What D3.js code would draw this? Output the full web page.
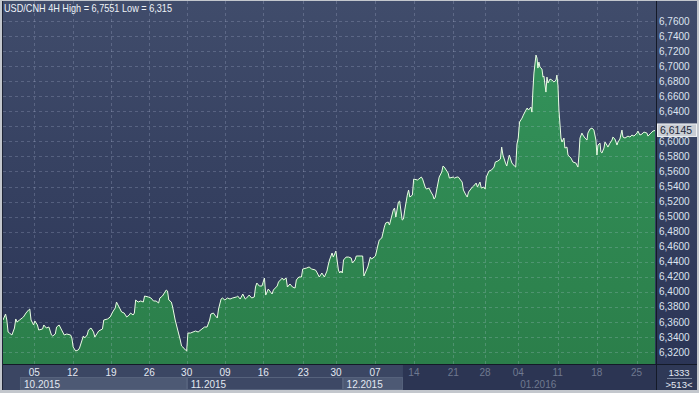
<!DOCTYPE html>
<html><head><meta charset="utf-8">
<script src="https://cdn.jsdelivr.net/npm/d3@7"></script>
<style>html,body{margin:0;padding:0;background:#c3c7cd;overflow:hidden}svg{display:block}</style>
</head><body><svg id="c" width="699" height="393"></svg>
<script>
// ---------- data ----------
const chartTitle = "USD/CNH 4H High = 6,7551 Low = 6,315";
// [4H bar index, close price]
const series = [[0,6.3625],[2,6.3705],[3,6.3625],[4,6.3466],[5,6.3452],[7,6.3426],[9,6.3519],[10,6.3639],[11,6.3599],[13,6.3625],[15,6.3652],[16,6.3665],[18,6.3718],[20,6.3758],[21,6.3771],[22,6.3625],[24,6.3559],[25,6.3612],[27,6.3559],[28,6.3492],[31,6.3506],[32,6.3559],[34,6.3519],[36,6.3532],[38,6.3426],[39,6.3413],[41,6.3439],[42,6.3532],[44,6.3559],[46,6.3492],[48,6.3426],[50,6.3439],[53,6.3426],[54,6.3386],[55,6.3266],[57,6.3213],[59,6.3227],[60,6.3253],[62,6.3359],[63,6.3413],[64,6.3386],[66,6.3426],[67,6.3492],[69,6.3519],[71,6.3466],[72,6.3399],[74,6.3452],[75,6.3479],[78,6.3506],[79,6.3625],[82,6.3639],[84,6.3665],[86,6.3732],[88,6.3785],[89,6.3864],[91,6.3798],[93,6.3732],[95,6.3718],[97,6.3665],[99,6.3692],[100,6.3718],[102,6.3692],[103,6.3718],[104,6.3891],[106,6.3864],[108,6.3878],[110,6.3864],[111,6.3944],[114,6.3931],[116,6.3918],[118,6.3878],[120,6.3878],[122,6.3851],[123,6.3918],[125,6.3944],[128,6.4024],[129,6.4011],[130,6.3891],[132,6.3864],[133,6.3798],[135,6.3625],[136,6.3559],[137,6.3492],[139,6.3359],[140,6.3280],[141,6.3266],[143,6.3227],[144,6.3213],[145,6.3452],[147,6.3452],[149,6.3466],[151,6.3479],[153,6.3466],[156,6.3506],[158,6.3532],[160,6.3532],[162,6.3625],[163,6.3705],[165,6.3718],[166,6.3692],[168,6.3652],[169,6.3771],[171,6.3904],[172,6.3918],[174,6.3891],[176,6.3918],[178,6.3904],[180,6.3918],[183,6.3931],[184,6.3944],[186,6.3904],[188,6.3971],[190,6.3904],[191,6.3918],[193,6.3957],[195,6.3918],[197,6.3931],[198,6.4064],[199,6.4117],[201,6.4077],[203,6.4077],[205,6.4183],[206,6.3957],[208,6.4037],[211,6.3971],[212,6.4024],[215,6.4077],[216,6.4130],[219,6.4183],[220,6.4157],[222,6.4183],[223,6.4064],[225,6.4104],[227,6.4064],[229,6.4050],[230,6.4157],[232,6.4197],[234,6.4197],[235,6.4303],[238,6.4316],[240,6.4330],[242,6.4303],[245,6.4290],[246,6.4263],[248,6.4197],[250,6.4250],[252,6.4197],[254,6.4276],[255,6.4356],[256,6.4423],[258,6.4516],[259,6.4462],[261,6.4542],[263,6.4290],[264,6.4250],[265,6.4276],[266,6.4250],[267,6.4423],[269,6.4462],[271,6.4462],[273,6.4449],[274,6.4383],[276,6.4423],[277,6.4476],[280,6.4476],[282,6.4476],[283,6.4210],[285,6.4290],[286,6.4330],[288,6.4462],[289,6.4436],[291,6.4462],[292,6.4476],[294,6.4622],[295,6.4688],[297,6.4715],[299,6.4861],[300,6.4914],[302,6.4928],[303,6.4888],[306,6.5087],[307,6.5114],[308,6.4994],[310,6.5193],[311,6.5207],[313,6.4954],[314,6.4967],[315,6.5087],[317,6.5286],[318,6.5353],[319,6.5260],[321,6.5286],[322,6.5499],[325,6.5486],[326,6.5499],[328,6.5526],[329,6.5499],[331,6.5393],[332,6.5366],[334,6.5379],[336,6.5313],[337,6.5286],[338,6.5233],[339,6.5260],[340,6.5353],[342,6.5526],[344,6.5592],[345,6.5672],[346,6.5658],[348,6.5605],[349,6.5579],[350,6.5512],[353,6.5526],[354,6.5512],[356,6.5526],[357,6.5526],[360,6.5459],[361,6.5353],[363,6.5286],[364,6.5260],[365,6.5326],[368,6.5393],[369,6.5406],[371,6.5446],[372,6.5393],[374,6.5459],[375,6.5379],[377,6.5393],[378,6.5366],[379,6.5526],[381,6.5605],[383,6.5619],[385,6.5658],[386,6.5725],[388,6.5738],[390,6.5765],[391,6.5924],[392,6.5818],[394,6.5712],[395,6.5672],[396,6.5751],[397,6.5818],[399,6.5712],[401,6.5672],[402,6.5658],[403,6.5965],[404,6.6044],[405,6.6256],[407,6.6310],[408,6.6349],[410,6.6416],[411,6.6443],[412,6.6416],[414,6.6456],[414.7,6.6389],[415.5,6.6682],[416.3,6.6908],[417.9,6.7147],[418.7,6.7107],[419.4,6.6974],[420.2,6.7054],[421,6.6987],[422.6,6.6961],[423.4,6.6854],[424.1,6.6868],[425.7,6.6655],[426.5,6.6854],[427.3,6.6775],[428.9,6.6828],[430.4,6.6815],[432,6.6788],[433.6,6.6815],[434.3,6.6881],[435.1,6.6748],[435.9,6.6416],[437.5,6.6044],[438.3,6.5991],[439.8,6.6044],[440.6,6.5911],[442.2,6.5924],[443,6.5818],[445.3,6.5778],[446.9,6.5725],[449.2,6.5712],[450.8,6.5658],[451.6,6.5818],[452.4,6.6044],[453.9,6.6110],[454.7,6.6084],[456.3,6.6044],[457.9,6.6017],[458.6,6.6110],[460.2,6.6163],[461.8,6.6177],[463.3,6.6150],[464.9,6.6017],[465.7,6.5818],[466.5,6.5951],[468.1,6.5977],[468.8,6.5858],[469.6,6.5845],[471.2,6.5911],[472,6.5991],[473.5,6.5951],[474.3,6.5924],[475.9,6.5977],[477.5,6.6017],[478.2,6.6057],[479.8,6.6031],[481.4,6.5951],[482.2,6.5991],[483.7,6.6031],[485.3,6.6150],[486.1,6.6057],[487.7,6.6044],[490,6.6070],[491.6,6.6057],[493.1,6.6084],[494.7,6.6070],[497.1,6.6110],[497.8,6.6137],[499.4,6.6084],[501,6.6097],[502.5,6.6124],[504.9,6.6110],[505.7,6.6070],[508,6.6110],[509.6,6.6137],[511.2,6.6145]];
const yTickValues = [6.32,6.34,6.36,6.38,6.40,6.42,6.44,6.46,6.48,6.50,6.52,6.54,6.56,6.58,6.60,6.62,6.64,6.66,6.68,6.70,6.72,6.74,6.76];
const dayTickBars = [24.5,54.6,84.7,114.7,144,174.1,204.1,235.4,261.1,291.7,322.2,353,377.9,404,434.9,465.5,496.8];
const dayTickLabels = ["05","12","19","26","30","09","16","23","30","07","14","21","28","04","11","18","25"];
const monthStartBars = [13.3,144.3,266.6,313.6];
const monthLabels = ["10.2015","11.2015","12.2015","01.2016"];
const monthLabelBars = [16.5,147.2,269.4,405.5];
const shadeStartBar = 313.6;
const lastPrice = 6.6145;
const totalBarsLabel = "1333";
const visibleBarsLabel = ">513<";

// ---------- layout ----------
const W = 699, H = 393;
const L = 3, R = 656, T = 1, B = 364, AXR = 697, AXB = 390;
const FONT = "'Liberation Sans', Arial, sans-serif";
const svg = d3.select("#c");

const x = d3.scaleLinear().domain([0, 512]).range([L, R]);
const y = d3.scaleLinear().domain([6.32, 6.76]).range([352, 21]);
const fmt = v => v.toFixed(4).replace(".", ",");

const defs = svg.append("defs");
const bg = defs.append("linearGradient").attr("id","bg").attr("x1",0).attr("y1",0).attr("x2",0).attr("y2",1);
bg.append("stop").attr("offset","0%").attr("stop-color","#404c6b");
bg.append("stop").attr("offset","100%").attr("stop-color","#2b3556");
const gr = defs.append("linearGradient").attr("id","gr").attr("x1",0).attr("y1",0).attr("x2",0).attr("y2",1);
gr.append("stop").attr("offset","0%").attr("stop-color","#33925a");
gr.append("stop").attr("offset","100%").attr("stop-color","#2b7e4a");
defs.append("clipPath").attr("id","clip").append("rect").attr("x",L).attr("y",T).attr("width",R-L).attr("height",B-T);

// frame + backgrounds
svg.append("rect").attr("width",W).attr("height",H).attr("fill","#c3c7cd");
svg.append("rect").attr("x",L).attr("y",T).attr("width",AXR-L).attr("height",B-T).attr("fill","url(#bg)");
svg.append("rect").attr("x",L).attr("y",B).attr("width",AXR-L).attr("height",AXB-B).attr("fill","#3b4663");
svg.append("rect").attr("x",x(shadeStartBar)).attr("y",B).attr("width",R-x(shadeStartBar)).attr("height",AXB-B).attr("fill","#2c3553");
svg.append("rect").attr("x",R).attr("y",B).attr("width",AXR-R).attr("height",AXB-B).attr("fill","#2f3957");

const plot = svg.append("g").attr("clip-path","url(#clip)");

// area + grid
plot.append("path").datum(series)
  .attr("fill","url(#gr)")
  .attr("d", d3.area().x(d=>x(d[0])).y0(B).y1(d=>y(d[1])));

const grid = plot.append("g").attr("stroke","rgba(200,210,235,0.22)").attr("stroke-dasharray","3,3").attr("stroke-width",1);
grid.selectAll("line.h").data(yTickValues).join("line")
  .attr("x1",L).attr("x2",R).attr("y1",d=>Math.round(y(d))+0.5).attr("y2",d=>Math.round(y(d))+0.5);
grid.selectAll("line.v").data(dayTickBars).join("line")
  .attr("y1",T).attr("y2",B).attr("x1",d=>Math.round(x(d))+0.5).attr("x2",d=>Math.round(x(d))+0.5);

plot.append("path").datum(series)
  .attr("fill","none").attr("stroke","#eafde4").attr("stroke-width",1)
  .attr("d", d3.line().x(d=>x(d[0])).y(d=>y(d[1])));

// separators
svg.append("line").attr("x1",R+0.5).attr("x2",R+0.5).attr("y1",T).attr("y2",AXB).attr("stroke","#141a28").attr("stroke-width",1);
svg.append("line").attr("x1",L).attr("x2",AXR).attr("y1",B+0.5).attr("y2",B+0.5).attr("stroke","#141a28").attr("stroke-width",1);
svg.append("line").attr("x1",L-0.5).attr("x2",L-0.5).attr("y1",T).attr("y2",AXB).attr("stroke","#1e2436");

// title
svg.append("text").attr("x",4).attr("y",12).attr("font-family",FONT).attr("font-size",10.5)
  .attr("fill","#eef2f8").attr("textLength",168).attr("lengthAdjust","spacingAndGlyphs").text(chartTitle);

// right axis (labels hidden behind the last-price box are skipped)
const ly = y(lastPrice);
svg.append("g").selectAll("text").data(yTickValues.filter(v => Math.abs(y(v) - ly) > 9)).join("text")
  .attr("x",659).attr("y",d=>y(d)+3.6).attr("font-family",FONT).attr("font-size",10)
  .attr("fill","#dde3ef").text(d=>fmt(d));

svg.append("rect").attr("x",657.5).attr("y",ly-6.5).attr("width",39).attr("height",12.5)
  .attr("fill","#c9cdd4").attr("stroke","#eef0f3").attr("stroke-width",1);
svg.append("text").attr("x",660).attr("y",ly+3.8).attr("font-family",FONT).attr("font-size",10.5)
  .attr("fill","#20273a").text(fmt(lastPrice));

// bottom axis: month boxes
monthStartBars.forEach((b,i)=>{
  if (i >= monthStartBars.length-1) return;
  const x0 = x(b), x1 = x(monthStartBars[i+1]);
  svg.append("rect").attr("x",x0+0.5).attr("y",377.5).attr("width",x1-x0-1).attr("height",12)
    .attr("fill", i%2===0 ? "#4d5974" : "#3d4865").attr("stroke","#56627c").attr("stroke-width",1);
});
svg.append("g").selectAll("text").data(monthLabels).join("text")
  .attr("x",(d,i)=>x(monthLabelBars[i])).attr("y",387.5).attr("font-family",FONT).attr("font-size",10)
  .attr("fill",(d,i)=>monthLabelBars[i] >= shadeStartBar ? "#6f7990" : "#e3e8f2").text(d=>d);

svg.append("g").selectAll("text").data(dayTickLabels).join("text")
  .attr("x",(d,i)=>x(dayTickBars[i])).attr("y",376).attr("text-anchor","middle")
  .attr("font-family",FONT).attr("font-size",10)
  .attr("fill",(d,i)=>dayTickBars[i] >= shadeStartBar ? "#6f7990" : "#e3e8f2").text(d=>d);

// bottom-right corner
svg.append("text").attr("x",679).attr("y",375.5).attr("text-anchor","middle").attr("font-family",FONT)
  .attr("font-size",9.5).attr("fill","#e3e8f2").text(totalBarsLabel);
svg.append("line").attr("x1",667).attr("x2",692).attr("y1",378.5).attr("y2",378.5).attr("stroke","#7d879e");
svg.append("text").attr("x",679).attr("y",388).attr("text-anchor","middle").attr("font-family",FONT)
  .attr("font-size",9.5).attr("fill","#e3e8f2").text(visibleBarsLabel);
</script>
</body></html>
